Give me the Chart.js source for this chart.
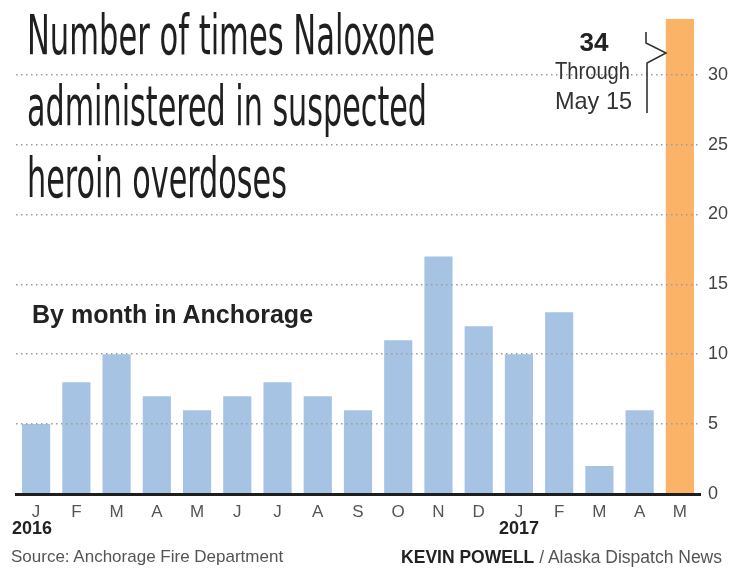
<!DOCTYPE html>
<html>
<head>
<meta charset="utf-8">
<script src="https://cdn.jsdelivr.net/npm/chart.js@4/dist/chart.umd.min.js"></script>
<style>
  body { margin: 0; background: #fff; }
  #wrap { position: relative; width: 735px; height: 571px; overflow: hidden; font-family: "Liberation Sans", Arial, sans-serif; }
  #wrap canvas { position: absolute; left: 0; top: 0; }
  .txt { position: absolute; white-space: nowrap; }
  .fit { transform-origin: 0 0; }
  .title { font-family: "Liberation Sans Narrow", "DejaVu Sans Condensed", "Liberation Sans", sans-serif; font-size: 56px; line-height: 56px; color: #1f1f1f; left: 27px; }
  .note { font-family: "Liberation Sans Narrow", "Liberation Sans", sans-serif; color: #333; font-size: 24px; line-height: 24px; }
</style>
</head>
<body>
<div id="wrap">
  <canvas id="chart"></canvas>

  <div class="txt title fit" data-w="408" style="top:7px">Number of times Naloxone</div>
  <div class="txt title fit" data-w="400" style="top:78px">administered in suspected</div>
  <div class="txt title fit" data-w="260" style="top:150px">heroin overdoses</div>

  <div class="txt" style="left:32px;top:300px;font-size:25px;font-weight:bold;color:#222;">By month in Anchorage</div>

  <div class="txt" style="left:544px;width:100px;text-align:center;top:29px;font-size:26px;line-height:26px;font-weight:bold;color:#222;">34</div>
  <div class="txt note fit" data-w="75" data-cx="592" style="top:59px;">Through</div>
  <div class="txt note fit" data-w="77" data-cx="593" style="top:89px;">May 15</div>
  <svg style="position:absolute;left:0;top:0" width="735" height="571">
    <polyline points="646,32 646,43 666,53 647,63 647,113" fill="none" stroke="#333" stroke-width="1.6"/>
  </svg>

  <div class="txt" style="left:12px;top:519px;font-size:18px;line-height:18px;font-weight:bold;color:#222;">2016</div>
  <div class="txt" style="left:499px;top:519px;font-size:18px;line-height:18px;font-weight:bold;color:#222;">2017</div>

  <div class="txt" style="left:11px;top:548px;font-size:17px;line-height:18px;color:#555;">Source: Anchorage Fire Department</div>
  <div class="txt" style="right:13px;top:548px;font-size:17.5px;line-height:18px;color:#555;"><b style="color:#222">KEVIN POWELL</b> / Alaska Dispatch News</div>
</div>

<script>
// Naloxone doses by month, Jan 2016 - May 2017 (May 2017 partial, through May 15)
const months = ['J', 'F', 'M', 'A', 'M', 'J', 'J', 'A', 'S', 'O', 'N', 'D', 'J', 'F', 'M', 'A', 'M'];
const doses = [5, 8, 10, 7, 6, 7, 8, 7, 6, 11, 17, 12, 10, 13, 2, 6, 34];
const yTicks = [0, 5, 10, 15, 20, 25, 30];

const blue = '#a6c3e4';
const orange = '#fbb467';
const lastIdx = doses.length - 1;

// squeeze text into the condensed look of the original
document.querySelectorAll('.fit').forEach(el => {
  const w = el.getBoundingClientRect().width;
  const target = Number(el.dataset.w);
  el.style.transform = 'scaleX(' + (target / w) + ')';
  if (el.dataset.cx) el.style.left = (Number(el.dataset.cx) - target / 2) + 'px';
});

new Chart(document.getElementById('chart').getContext('2d'), {
  type: 'bar',
  data: {
    labels: months,
    datasets: [{
      data: doses,
      backgroundColor: ctx => ctx.dataIndex === lastIdx ? orange : blue,
      borderWidth: 0,
      barPercentage: 0.7,
      categoryPercentage: 1
    }]
  },
  options: {
    responsive: true,
    maintainAspectRatio: false,
    animation: false,
    layout: { padding: { top: 12, left: 16, right: 0, bottom: 0 } },
    plugins: { legend: { display: false }, tooltip: { enabled: false } },
    scales: {
      x: {
        grid: { display: false, drawTicks: false },
        border: { display: true, color: '#1e1e1e', width: 3, z: 2 },
        ticks: {
          color: '#555',
          font: { family: 'Liberation Sans', size: 17 },
          padding: 8,
          maxRotation: 0,
          autoSkip: false
        },
        afterFit: s => { s.height = 77; }
      },
      y: {
        position: 'right',
        min: 0,
        max: 34,
        afterBuildTicks: s => { s.ticks = yTicks.map(v => ({ value: v })); },
        grid: {
          z: 1,
          drawTicks: false,
          lineWidth: 1.5,
          color: ctx => ctx.tick && ctx.tick.value === 0 ? 'rgba(0,0,0,0)' : '#9c9c9c'
        },
        border: { display: false, dash: [1.5, 3.5] },
        ticks: {
          color: '#444',
          font: { family: 'Liberation Sans', size: 18 },
          padding: 8
        },
        afterFit: s => { s.width = 35; }
      }
    }
  }
});
</script>
</body>
</html>
